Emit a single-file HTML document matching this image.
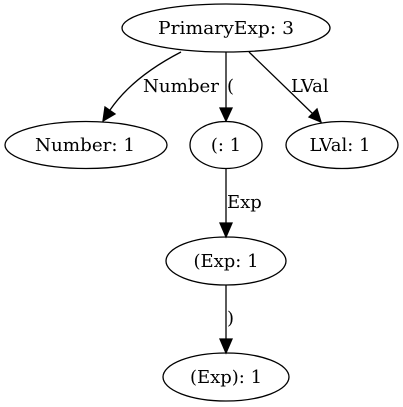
<!DOCTYPE html>
<html><head><meta charset="utf-8"><style>
html,body{margin:0;padding:0;background:#fff;}
svg{display:block;}
text{font-family:"DejaVu Serif",serif;font-size:18px;fill:#000;}
</style></head><body>
<svg width="403" height="407" viewBox="0 0 403 407" xmlns="http://www.w3.org/2000/svg">
<g fill="none" stroke="#000" stroke-width="1.3">
<ellipse cx="226" cy="28" rx="104" ry="24"/>
<ellipse cx="86" cy="145" rx="81" ry="23.5"/>
<ellipse cx="226" cy="145" rx="36" ry="23.5"/>
<ellipse cx="342" cy="145" rx="56" ry="23.5"/>
<ellipse cx="226" cy="261" rx="60" ry="24"/>
<ellipse cx="226" cy="377" rx="63" ry="24"/>
<path d="M181,52 C150,68 125,88 110,110"/>
<path d="M226,52 L226,108"/>
<path d="M249,52 L313,114"/>
<path d="M226,169 L226,224"/>
<path d="M226,285 L226,340"/>
</g>
<g fill="#000" stroke="#000" stroke-width="1.3">
<polygon points="103,121 105,107 115,114"/>
<polygon points="226,121 220,108 232,108"/>
<polygon points="321,122 309,117 317,109"/>
<polygon points="226,237 220,223 232,223"/>
<polygon points="226,353 220,339 232,339"/>
</g>
<g text-anchor="middle">
<text x="226" y="34" textLength="136" lengthAdjust="spacingAndGlyphs">PrimaryExp: 3</text>
<text x="85" y="151" textLength="100" lengthAdjust="spacingAndGlyphs">Number: 1</text>
<text x="226" y="151">(: 1</text>
<text x="340" y="151">LVal: 1</text>
<text x="226" y="267">(Exp: 1</text>
<text x="226" y="383">(Exp): 1</text>
</g>
<text x="143" y="92" textLength="76" lengthAdjust="spacingAndGlyphs">Number</text>
<text x="227" y="92">(</text>
<text x="291" y="92">LVal</text>
<text x="227" y="208">Exp</text>
<text x="227" y="324">)</text>
</svg>
</body></html>
